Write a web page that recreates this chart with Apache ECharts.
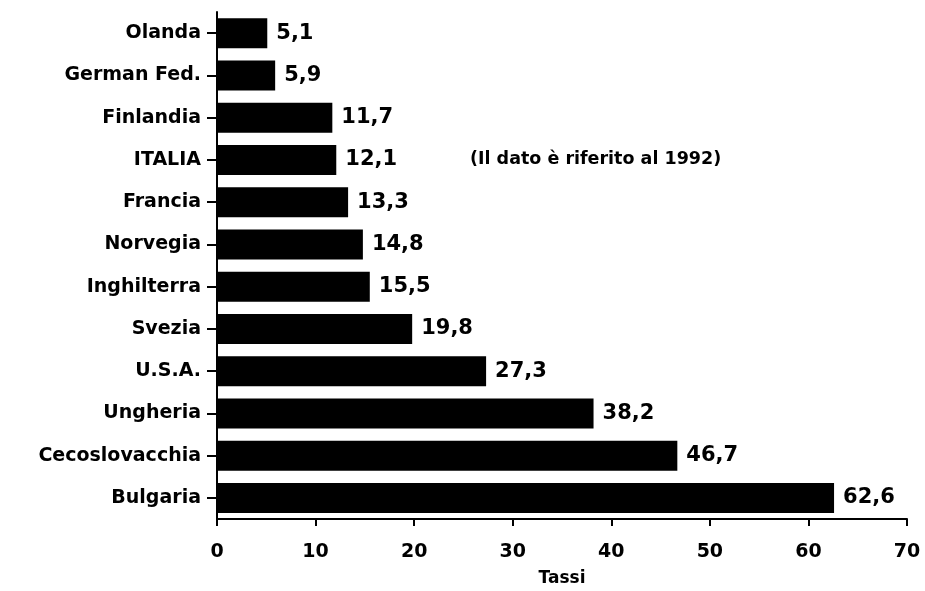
<!DOCTYPE html>
<html><head><meta charset="utf-8">
<script src="https://cdn.jsdelivr.net/npm/echarts@6/dist/echarts.min.js"></script>
<style>html,body{margin:0;padding:0;background:#fff}#c{width:925px;height:591px}</style>
</head><body><div id="c"></div>
<script>
var categories = ["Olanda","German Fed.","Finlandia","ITALIA","Francia","Norvegia","Inghilterra","Svezia","U.S.A.","Ungheria","Cecoslovacchia","Bulgaria"];
var values = [5.1,5.9,11.7,12.1,13.3,14.8,15.5,19.8,27.3,38.2,46.7,62.6];
var xTicks = [0,10,20,30,40,50,60,70];
var axisTitle = "Tassi";
var note = "(Il dato è riferito al 1992)";

var chart = echarts.init(document.getElementById('c'));
var F = "DejaVu Sans, Liberation Sans, Arial, sans-serif";
chart.setOption({
  animation:false,
  backgroundColor:'#fff',
  grid:{left:217,right:18,top:12,bottom:72,containLabel:false,outerBoundsMode:'none'},
  xAxis:{type:'value',min:xTicks[0],max:xTicks[xTicks.length-1],interval:10,
    name:axisTitle,nameLocation:'middle',nameGap:51,
    nameTextStyle:{color:'#000',fontFamily:F,fontWeight:'bold',fontSize:17},
    axisLine:{show:true,lineStyle:{color:'#000',width:2}},
    axisTick:{show:true,inside:false,length:7,lineStyle:{color:'#000',width:2}},
    axisLabel:{color:'#000',fontFamily:F,fontWeight:'bold',fontSize:19,margin:24},
    splitLine:{show:false}},
  yAxis:{type:'category',inverse:true,data:categories,
    axisLine:{show:true,lineStyle:{color:'#000',width:2}},
    axisTick:{show:true,alignWithLabel:true,length:10,lineStyle:{color:'#000',width:2}},
    axisLabel:{color:'#000',fontFamily:F,fontWeight:'bold',fontSize:19,margin:16}},
  series:[{type:'bar',data:values,barWidth:30,
    itemStyle:{color:'#000'},
    label:{show:true,position:'right',distance:9,color:'#000',fontFamily:F,fontWeight:'bold',fontSize:21,
      formatter:function(p){return String(p.value).replace('.',',');}}}],
  graphic:[{type:'text',left:470,top:150,style:{text:note,fill:'#000',font:'bold 17.5px '+F}}]
});
</script></body></html>
